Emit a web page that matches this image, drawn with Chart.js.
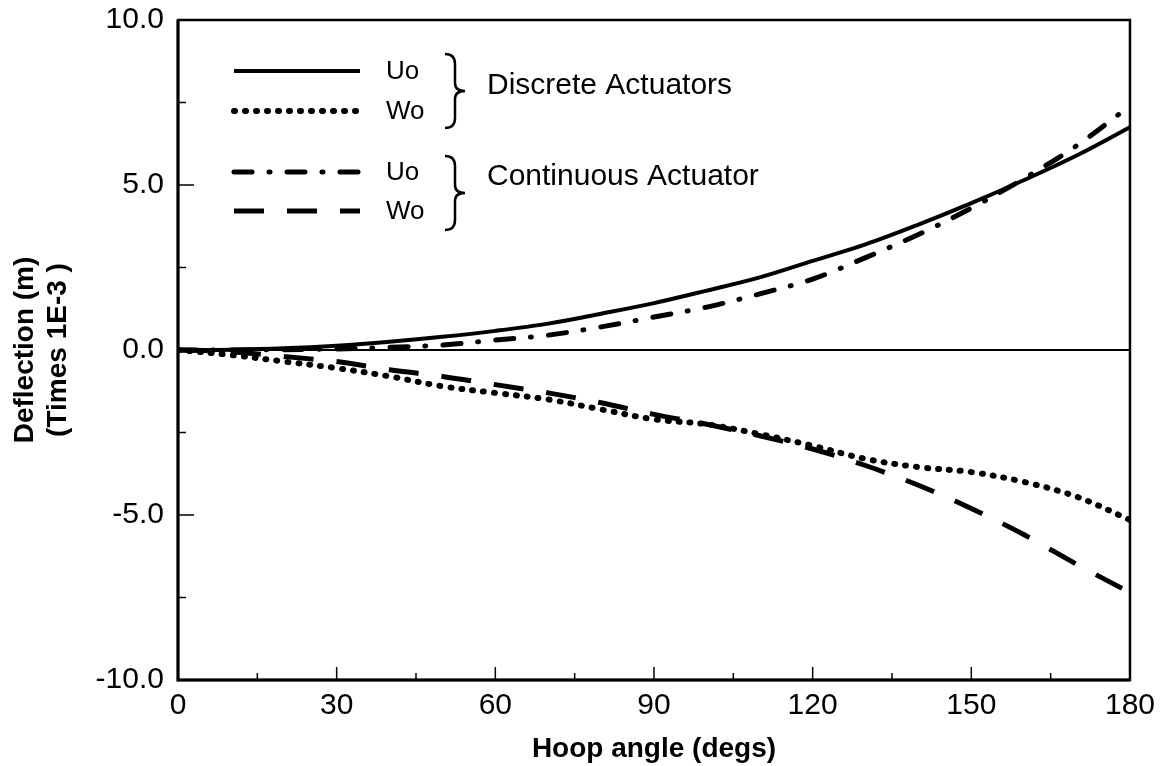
<!DOCTYPE html>
<html>
<head>
<meta charset="utf-8">
<script src="https://cdn.jsdelivr.net/npm/chart.js@4.4.1/dist/chart.umd.min.js"></script>
<style>
  html, body { margin: 0; padding: 0; background: #fff; }
  #wrap { width: 1163px; height: 766px; }
</style>
</head>
<body>
<div id="wrap"><canvas id="chart"></canvas></div>
<script>
// Hoop angle (degs)
var angles = [0, 10, 20, 30, 40, 50, 60, 70, 80, 90, 100, 110, 120, 130, 140, 150, 160, 170, 180];

// Deflection (times 1E-3 m)
var discreteUo   = [0, 0.01, 0.05, 0.13, 0.25, 0.4, 0.58, 0.8, 1.1, 1.42, 1.8, 2.2, 2.7, 3.2, 3.8, 4.45, 5.15, 5.9, 6.75];
var discreteWo   = [0, -0.15, -0.35, -0.55, -0.8, -1.1, -1.3, -1.5, -1.8, -2.1, -2.25, -2.55, -2.9, -3.3, -3.55, -3.7, -4.0, -4.45, -5.15];
var continuousUo = [0, 0, 0.01, 0.03, 0.08, 0.15, 0.3, 0.45, 0.7, 1.0, 1.3, 1.7, 2.15, 2.8, 3.5, 4.3, 5.2, 6.2, 7.4];
var continuousWo = [0, -0.05, -0.2, -0.35, -0.6, -0.8, -1.05, -1.3, -1.6, -1.95, -2.25, -2.6, -3.0, -3.5, -4.1, -4.8, -5.6, -6.5, -7.35];

// tick labels
var xTickValues = [0, 30, 60, 90, 120, 150, 180];
var yTickValues = [-10, -5, 0, 5, 10];
var yTickLabels = ['-10.0', '-5.0', '0.0', '5.0', '10.0'];

// line styles
var dotDash  = [1, 10];
var dashDot  = [18, 17, 1, 17];
var longDash = [30, 23];

function pts(ys) {
    return angles.map(function (a, i) { return { x: a, y: ys[i] }; });
}

// box, inward ticks, zero line and the bracketed legend
var framePlugin = {
    id: 'frame',
    afterDraw: function (chart) {
        var ctx = chart.ctx;
        var a = chart.chartArea;
        var xs = chart.scales.x, ys = chart.scales.y;
        ctx.save();
        ctx.strokeStyle = '#000';

        // zero line
        ctx.lineWidth = 2;
        ctx.beginPath();
        ctx.moveTo(a.left, ys.getPixelForValue(0));
        ctx.lineTo(a.right, ys.getPixelForValue(0));
        ctx.stroke();

        // ticks on the bottom axis
        ctx.lineWidth = 1.5;
        for (var v = 15; v < 180; v += 15) {
            var px = xs.getPixelForValue(v);
            var len = (v % 30 === 0) ? 13 : 7;
            ctx.beginPath();
            ctx.moveTo(px, a.bottom);
            ctx.lineTo(px, a.bottom - len);
            ctx.stroke();
        }
        // ticks on the left axis
        for (var w = -7.5; w < 10; w += 2.5) {
            var py = ys.getPixelForValue(w);
            var l2 = (w % 5 === 0) ? 16 : 8;
            ctx.beginPath();
            ctx.moveTo(a.left, py);
            ctx.lineTo(a.left + l2, py);
            ctx.stroke();
        }

        // frame
        ctx.lineWidth = 2.5;
        ctx.strokeRect(a.left, a.top, a.right - a.left, a.bottom - a.top);
        ctx.lineWidth = 3;
        ctx.beginPath();
        ctx.moveTo(a.left, a.top);
        ctx.lineTo(a.left, a.bottom);
        ctx.lineTo(a.right, a.bottom);
        ctx.stroke();

        // legend rows
        var rows = [
            { y: 71,  dash: [],       w: 4, cap: 'butt',  label: 'Uo' },
            { y: 111, dash: dotDash,  w: 6, cap: 'round', label: 'Wo' },
            { y: 172, dash: dashDot,  w: 5, cap: 'round', label: 'Uo' },
            { y: 211, dash: longDash, w: 5, cap: 'butt',  label: 'Wo' }
        ];
        ctx.fillStyle = '#000';
        ctx.textBaseline = 'middle';
        ctx.textAlign = 'left';
        rows.forEach(function (r) {
            ctx.lineWidth = r.w;
            ctx.lineCap = r.cap;
            ctx.setLineDash(r.dash);
            ctx.beginPath();
            ctx.moveTo(234, r.y);
            ctx.lineTo(360, r.y);
            ctx.stroke();
            ctx.font = '26px "Liberation Sans", Arial, sans-serif';
            ctx.fillText(r.label, 386, r.y + 1);
        });
        ctx.setLineDash([]);
        ctx.lineCap = 'butt';

        // braces
        function brace(x, top, bottom) {
            var mid = (top + bottom) / 2;
            var d = 10;
            ctx.lineWidth = 2.5;
            ctx.beginPath();
            ctx.moveTo(x - d, top);
            ctx.quadraticCurveTo(x, top, x, top + 10);
            ctx.lineTo(x, mid - 8);
            ctx.quadraticCurveTo(x, mid, x + d, mid);
            ctx.quadraticCurveTo(x, mid, x, mid + 8);
            ctx.lineTo(x, bottom - 10);
            ctx.quadraticCurveTo(x, bottom, x - d, bottom);
            ctx.stroke();
        }
        brace(455, 54, 128);
        brace(455, 156, 230);

        ctx.font = '30px "Liberation Sans", Arial, sans-serif';
        ctx.fillText('Discrete Actuators', 487, 86);
        ctx.fillText('Continuous Actuator', 487, 177);
        ctx.restore();
    }
};

var tickFont = { family: '"Liberation Sans", Arial, sans-serif', size: 30 };
var titleFont = { family: '"Liberation Sans", Arial, sans-serif', size: 28, weight: 'bold' };

new Chart(document.getElementById('chart'), {
    type: 'line',
    data: {
        datasets: [{
            label: 'Uo (Discrete Actuators)',
            data: pts(discreteUo),
            borderColor: '#000',
            borderWidth: 4
        }, {
            label: 'Wo (Discrete Actuators)',
            data: pts(discreteWo),
            borderColor: '#000',
            borderWidth: 6,
            borderDash: dotDash,
            borderCapStyle: 'round'
        }, {
            label: 'Uo (Continuous Actuator)',
            data: pts(continuousUo),
            borderColor: '#000',
            borderWidth: 5,
            borderDash: dashDot,
            borderCapStyle: 'round'
        }, {
            label: 'Wo (Continuous Actuator)',
            data: pts(continuousWo),
            borderColor: '#000',
            borderWidth: 5,
            borderDash: longDash
        }]
    },
    options: {
        responsive: true,
        maintainAspectRatio: false,
        animation: false,
        events: [],
        layout: { padding: { top: 20, right: 32, left: 0, bottom: 0 } },
        elements: {
            point: { radius: 0 },
            line: { tension: 0.35, fill: false }
        },
        plugins: {
            legend: { display: false },
            tooltip: { enabled: false }
        },
        scales: {
            x: {
                type: 'linear',
                min: 0,
                max: 180,
                afterBuildTicks: function (scale) {
                    scale.ticks = xTickValues.map(function (v) { return { value: v }; });
                },
                ticks: { color: '#000', font: tickFont, padding: 8, maxRotation: 0 },
                grid: { display: false, drawTicks: false },
                border: { display: false },
                title: {
                    display: true,
                    text: 'Hoop angle (degs)',
                    color: '#000',
                    font: titleFont,
                    padding: { top: 0, bottom: 0 }
                },
                afterFit: function (scale) { scale.height = 86; }
            },
            y: {
                type: 'linear',
                min: -10,
                max: 10,
                afterBuildTicks: function (scale) {
                    scale.ticks = yTickValues.map(function (v) { return { value: v }; });
                },
                ticks: {
                    color: '#000',
                    font: tickFont,
                    padding: 14,
                    callback: function (v) { return yTickLabels[yTickValues.indexOf(v)]; }
                },
                grid: { display: false, drawTicks: false },
                border: { display: false },
                title: {
                    display: true,
                    text: ['Deflection (m)', '(Times 1E-3 )'],
                    color: '#000',
                    font: titleFont,
                    padding: { top: 8, bottom: 0 }
                },
                afterFit: function (scale) {
                    scale.width = 178;
                    scale.paddingTop = 0;
                    scale.paddingBottom = 0;
                }
            }
        }
    },
    plugins: [framePlugin]
});
</script>
</body>
</html>
